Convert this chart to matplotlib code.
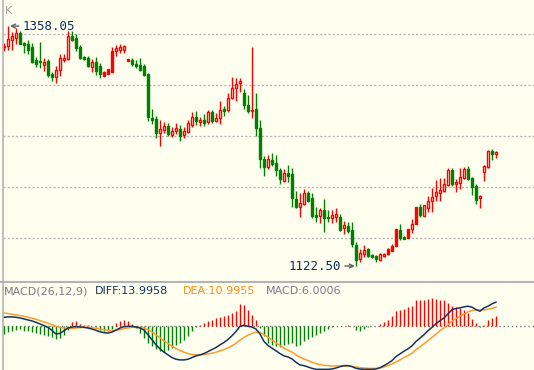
import numpy as np
import matplotlib
matplotlib.use("Agg")
import matplotlib.pyplot as plt
from matplotlib.lines import Line2D

# K-line data (one candle per bar)
opens = [1337, 1338.5, 1344, 1346.5, 1351, 1341, 1340, 1337, 1325, 1324,
         1320, 1324, 1311, 1308, 1315, 1325, 1326, 1348, 1346, 1337,
         1328, 1327, 1318, 1323, 1319, 1309, 1311, 1313, 1334, 1335,
         1335, 1324, 1325, 1321, 1320, 1319, 1311, 1268, 1267, 1253,
         1256, 1260, 1251, 1255, 1257, 1251, 1254, 1261, 1269, 1264,
         1266, 1264, 1274, 1265, 1268, 1277, 1276, 1287, 1297, 1302,
         1292, 1281, 1275, 1277, 1258, 1228, 1220, 1227, 1224, 1217,
         1206, 1214, 1213, 1188, 1180, 1183, 1194, 1189, 1173, 1172,
         1177, 1171, 1170, 1171, 1171, 1160, 1162, 1158, 1143, 1129,
         1134, 1139, 1133, 1132, 1128, 1132, 1134, 1137, 1142, 1158,
         1151, 1150, 1159, 1164, 1180, 1172, 1179, 1186, 1191, 1194,
         1196, 1202, 1217, 1203, 1204, 1209, 1218, 1209, 1201, 1189,
         1215, 1220, 1235, 1232]
closes = [1338, 1345, 1348, 1351, 1340.5, 1339.5, 1335, 1323, 1321, 1323,
          1323, 1310, 1308, 1315, 1327, 1327, 1348, 1344, 1336, 1327,
          1326, 1319, 1323, 1314, 1311, 1313, 1316, 1334, 1336, 1337,
          1338, 1326, 1321, 1319, 1315, 1310, 1269, 1266, 1253, 1257,
          1260, 1252, 1255, 1258, 1250, 1255, 1263, 1269, 1265, 1266,
          1263, 1274, 1265, 1268, 1276, 1275, 1287, 1297, 1301, 1304,
          1281, 1275, 1276, 1258, 1228, 1220, 1228, 1223, 1217, 1208,
          1214, 1211, 1189, 1180, 1184, 1194, 1186, 1172, 1171, 1177,
          1170, 1170, 1173, 1174, 1158, 1163, 1157, 1144, 1128, 1135,
          1138, 1132, 1131, 1129, 1134, 1134, 1139, 1142, 1159, 1150,
          1149, 1159, 1164, 1180, 1173, 1182, 1186, 1190, 1195, 1197,
          1203, 1217, 1203, 1205, 1210, 1218, 1208, 1200, 1187, 1191,
          1221, 1235, 1232, 1234]
highs = [1341, 1358.05, 1352, 1356, 1353, 1342, 1344, 1341, 1328, 1342,
         1327, 1326, 1313, 1319, 1331, 1331, 1353, 1353, 1350, 1339,
         1329, 1329, 1326, 1328, 1322, 1314, 1316, 1337, 1339, 1340,
         1339, 1326, 1327, 1325, 1327, 1321, 1312, 1277, 1270, 1266,
         1264, 1263, 1259, 1263, 1261, 1259, 1266, 1274, 1275, 1269,
         1272, 1276, 1276, 1273, 1284, 1280, 1292, 1308, 1307, 1307,
         1296, 1290, 1337, 1292, 1266, 1230, 1231, 1233, 1231, 1219,
         1218, 1222, 1219, 1196, 1194, 1198, 1196, 1194, 1180, 1179,
         1188, 1177, 1177, 1179, 1174, 1167, 1166, 1166, 1146, 1139,
         1143, 1140, 1134, 1133, 1135, 1135, 1140, 1144, 1159, 1164,
         1152, 1159, 1169, 1180, 1183, 1182, 1191, 1199, 1207, 1209,
         1209, 1219, 1219, 1208, 1219, 1220, 1221, 1210, 1203, 1192,
         1222, 1236, 1237, 1235]
lows = [1334, 1335, 1335, 1340, 1340, 1332, 1331, 1322, 1318, 1317,
        1314, 1308, 1304, 1302, 1309, 1323, 1325, 1343, 1334, 1326,
        1325, 1318, 1313, 1310, 1307, 1309, 1311, 1313, 1329, 1332,
        1332, 1324, 1319, 1317, 1314, 1309, 1265, 1262, 1248, 1240,
        1253, 1250, 1249, 1252, 1245, 1248, 1253, 1259, 1261, 1260,
        1260, 1262, 1263, 1264, 1262, 1270, 1274, 1286, 1284, 1293,
        1277, 1273, 1268, 1250, 1219, 1211, 1218, 1221, 1211, 1203,
        1205, 1205, 1180, 1179, 1171, 1182, 1185, 1170, 1166, 1165,
        1156, 1166, 1165, 1166, 1157, 1154, 1155, 1141, 1122.50, 1126,
        1131, 1131, 1130, 1126, 1127, 1131, 1133, 1137, 1142, 1148,
        1149, 1150, 1155, 1164, 1171, 1172, 1176, 1176, 1186, 1186,
        1195, 1201, 1201, 1195, 1198, 1208, 1207, 1192, 1183, 1179,
        1206, 1219, 1227, 1229]
# rising candles drawn solid instead of hollow
solid_up = [25, 26, 27, 31, 96, 97, 98, 101, 103]
grid_levels = [1350, 1300, 1250, 1200, 1150]

# MACD(26,12,9)
diff = [5.0, 5.2, 5.2, 5.0, 4.6, 4.0, 3.4, 2.8, 2.0, 1.0,
        0.0, -1.0, -2.8, -5.0, -4.6, -3.0, -1.4, -0.8, -0.6, -0.8,
        -1.0, -1.4, -2.0, -2.8, -3.6, -4.2, -4.4, -3.8, -2.6, -1.4,
        -0.6, -0.4, -0.4, -0.8, -1.4, -2.6, -5.4, -8.4, -11.4, -13.8,
        -15.8, -17.4, -19.0, -20.0, -20.4, -20.4, -20.0, -19.0, -18.0, -17.4,
        -16.6, -15.4, -14.2, -13.0, -11.4, -10.0, -8.2, -6.0, -3.4, -0.4,
        0.2, -0.4, -0.8, -2.0, -5.0, -9.4, -11.8, -13.4, -15.0, -16.6,
        -18.0, -18.6, -19.8, -21.8, -23.4, -23.8, -24.6, -25.4, -26.0, -26.0,
        -26.0, -26.0, -25.8, -25.2, -24.4, -23.8, -23.8, -24.4, -25.4, -25.8,
        -26.0, -26.0, -26.0, -25.8, -25.0, -23.8, -22.4, -20.8, -18.4, -16.8,
        -15.2, -13.8, -12.0, -9.4, -7.4, -5.4, -3.0, -1.0, 1.2, 3.0,
        4.6, 7.0, 9.6, 10.2, 10.6, 11.2, 11.6, 11.0, 9.6, 8.6,
        10.6, 11.6, 13.0, 14.0]
dea = [7.6, 7.2, 6.8, 6.4, 6.0, 5.6, 5.0, 4.4, 3.8, 3.0,
       2.2, 1.4, 0.6, -0.4, -1.0, -1.4, -1.6, -1.6, -1.4, -1.2,
       -1.0, -1.0, -1.2, -1.6, -2.0, -2.4, -2.8, -3.0, -2.8, -2.4,
       -1.8, -1.4, -1.0, -1.0, -1.0, -1.4, -2.4, -3.8, -5.4, -7.2,
       -9.0, -10.6, -12.2, -13.6, -14.8, -15.8, -16.6, -17.2, -17.4, -17.4,
       -17.2, -16.8, -16.4, -15.8, -15.0, -14.2, -13.2, -12.0, -10.4, -8.6,
       -7.0, -5.6, -4.6, -3.8, -4.0, -5.4, -6.8, -8.6, -10.2, -11.8,
       -13.4, -14.6, -15.8, -17.4, -18.8, -19.8, -20.8, -21.8, -22.6, -23.2,
       -23.6, -23.8, -24.0, -24.0, -24.0, -24.0, -24.0, -24.2, -24.6, -25.0,
       -25.2, -25.4, -25.4, -25.4, -25.2, -24.6, -23.8, -22.8, -21.6, -20.4,
       -19.0, -17.8, -16.4, -14.4, -12.6, -10.8, -8.8, -7.0, -5.0, -3.0,
       -1.4, 0.6, 2.6, 4.2, 5.6, 7.0, 8.2, 9.0, 9.4, 9.2,
       9.4, 9.8, 10.4, 11.0]
macd = [-5.0, -3.8, -3.0, -2.4, -2.0, -3.0, -3.4, -3.8, -4.4, -5.0,
        -5.8, -6.4, -7.0, -7.8, -7.4, -5.4, -2.4, 2.2, 2.6, 1.2,
        0.6, 0.2, -0.2, -1.0, -2.4, -3.0, -3.4, -1.8, 1.6, 2.6,
        3.6, 2.6, 1.0, -1.4, -4.4, -7.4, -10.4, -12.4, -13.8, -15.0,
        -15.4, -14.6, -13.4, -11.8, -10.2, -8.4, -6.4, -3.4, -1.0, 0.6,
        1.6, 2.6, 3.6, 4.6, 5.0, 5.6, 6.6, 7.6, 9.0, 13.0,
        12.2, 9.6, 6.6, 3.6, -1.4, -6.0, -10.4, -11.4, -12.4, -13.0,
        -11.8, -11.0, -10.4, -12.4, -11.8, -9.4, -7.8, -7.0, -5.8, -4.4,
        -3.4, -1.8, -0.8, -0.4, -0.2, 0.0, 0.2, -0.4, -2.4, -3.0,
        -1.8, -1.0, -0.4, -0.2, 1.0, 2.0, 3.6, 5.6, 9.0, 9.6,
        10.2, 11.0, 12.0, 15.0, 15.0, 15.4, 16.0, 16.2, 15.6, 15.0,
        15.0, 13.6, 11.6, 11.2, 10.6, 9.6, 7.6, 4.0, 1.6, -1.0,
        0.6, 3.6, 4.6, 6.0]

W, H = 534, 370
BG = "#fffff0"
RED = "#ff0000"
GREEN = "#008000"

fig = plt.figure(figsize=(W / 100, H / 100), dpi=100, facecolor=BG)
ax = fig.add_axes([3 / W, 89 / H, 531 / W, 281 / H])
axm = fig.add_axes([3 / W, 0, 531 / W, 88 / H])
for a in (ax, axm):
    a.set_facecolor(BG)
    a.set_xlim(-0.25, 132.5)
    a.set_xticks([])
    a.set_yticks([])
    for s in a.spines.values():
        s.set_visible(False)

# --- candles ---
o = np.array(opens, dtype=float)
c = np.array(closes, dtype=float)
h = np.array(highs, dtype=float)
l = np.array(lows, dtype=float)
x = np.arange(len(o))
up = c >= o
solid = np.zeros(len(o), dtype=bool)
solid[solid_up] = True

ax.set_ylim(1107.8, 1383.6)
for g in grid_levels:
    ax.axhline(g, color="#b4b4b4", lw=1, ls=(0, (1.5, 1.5)), zorder=0)

cols = np.where(up, RED, GREEN)
ax.vlines(x, l, h, colors=cols, lw=1, zorder=2)
bottom = np.minimum(o, c)
height = np.abs(c - o)
m = up & ~solid
ax.bar(x[m], height[m], bottom=bottom[m], width=0.5, facecolor=BG,
       edgecolor=RED, lw=1, zorder=3)
m = up & solid
ax.bar(x[m], height[m], bottom=bottom[m], width=0.5, facecolor=RED,
       edgecolor=RED, lw=1, zorder=3)
m = ~up
ax.bar(x[m], height[m], bottom=bottom[m], width=0.5, facecolor=GREEN,
       edgecolor=GREEN, lw=1, zorder=3)

# high / low marks
num_col = "#0f2d5c"
imax = int(np.argmax(h))
imin = int(np.argmin(l))
arrow = dict(arrowstyle="->", color="#606060", lw=1, shrinkA=1, shrinkB=0,
             mutation_scale=7)
ax.annotate(f"{h[imax]:.2f}", xy=(imax + 0.5, h[imax]), xytext=(13, 0),
            textcoords="offset pixels", ha="left", va="center",
            family="DejaVu Sans Mono", fontsize=9, color=num_col,
            arrowprops=arrow, zorder=5)
ax.annotate(f"{l[imin]:.2f}", xy=(imin - 0.3, l[imin]), xytext=(-14, 0),
            textcoords="offset pixels", ha="right", va="center",
            family="DejaVu Sans Mono", fontsize=9, color=num_col,
            arrowprops=arrow, zorder=5)

# --- MACD panel ---
axm.set_ylim(-26.4, 26)
axm.axhline(0, color="#707070", lw=1, ls=(0, (1, 2)), zorder=1)
hv = np.array(macd)
axm.vlines(x, 0, hv, colors=np.where(hv > 0, RED, GREEN), lw=1, zorder=2)
axm.plot(x, dea, color="#ff9a2e", lw=1.1, zorder=3)
axm.plot(x, diff, color="#16325c", lw=1.1, zorder=4)

# frame lines and labels
fig.add_artist(Line2D([0, 1], [88.5 / H, 88.5 / H], transform=fig.transFigure,
                      color="#b4b4b4", lw=1.5))
fig.add_artist(Line2D([2.5 / W, 2.5 / W], [0, 1], transform=fig.transFigure,
                      color="#b4b4b4", lw=1.2))
fig.text(5 / W, 1 - 11 / H, "K", color="#a0a0a0", fontsize=8, va="center")

ty = 1 - 291 / H
fig.text(4 / W, ty, "MACD(26,12,9)", color="#7a7a8a", fontsize=8, va="center")
fig.text(95 / W, ty, "DIFF:13.9958", color="#16325c", fontsize=8, va="center")
fig.text(183 / W, ty, "DEA:10.9955", color="#ff8c1a", fontsize=8, va="center")
fig.text(266 / W, ty, "MACD:6.0006", color="#7a7a8a", fontsize=8, va="center")

fig.savefig("out.png", dpi=100, facecolor=BG)
